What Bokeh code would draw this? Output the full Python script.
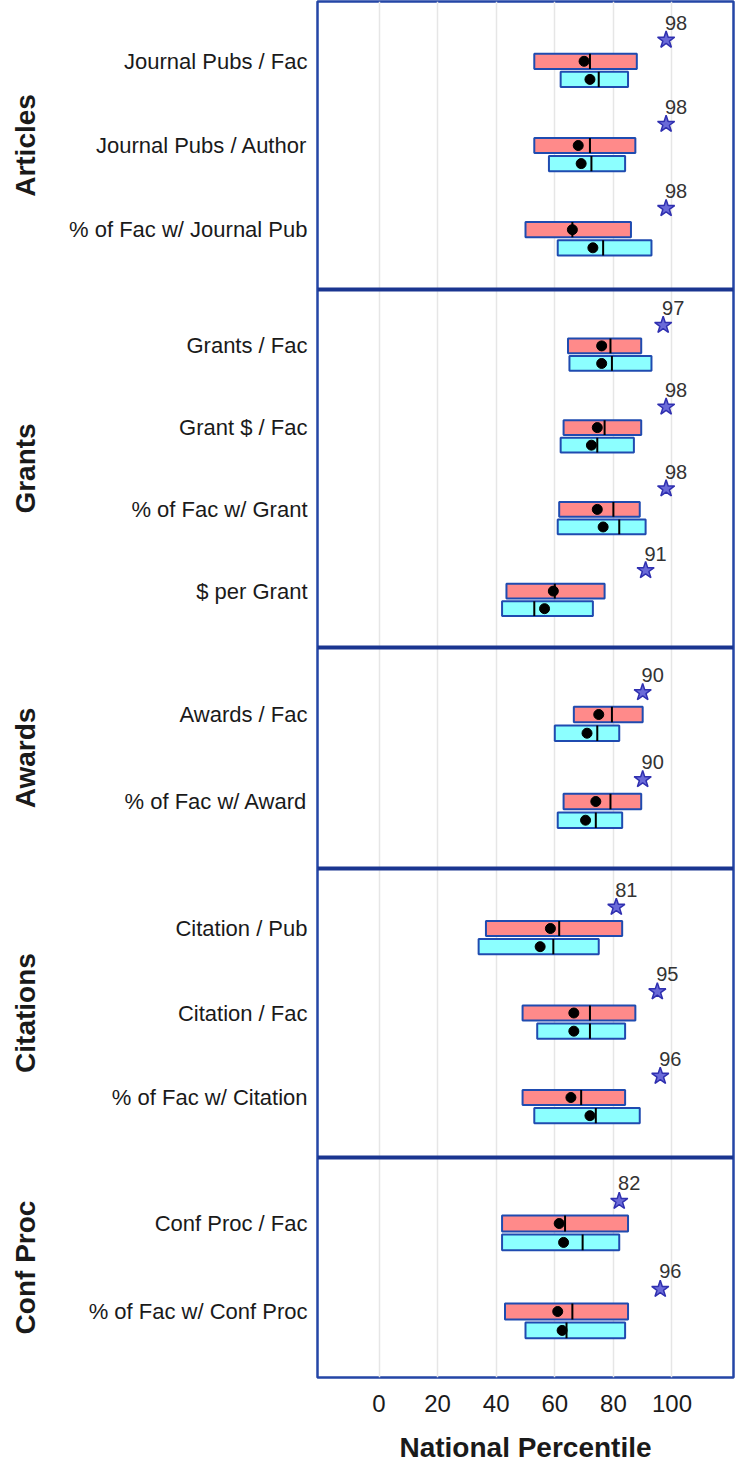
from bokeh.plotting import figure
from bokeh.models import ColumnDataSource, Range1d, FixedTicker, LinearAxis, Span
from bokeh.core.properties import value
from bokeh.embed import file_html
from bokeh.resources import INLINE

# ---------------- data ----------------
groups = ["Articles", "Grants", "Awards", "Citations", "Conf Proc"]

measures = [
    "Journal Pubs / Fac", "Journal Pubs / Author", "% of Fac w/ Journal Pub",
    "Grants / Fac", "Grant $ / Fac", "% of Fac w/ Grant", "$ per Grant",
    "Awards / Fac", "% of Fac w/ Award",
    "Citation / Pub", "Citation / Fac", "% of Fac w/ Citation",
    "Conf Proc / Fac", "% of Fac w/ Conf Proc",
]
measure_group = [
    "Articles", "Articles", "Articles",
    "Grants", "Grants", "Grants", "Grants",
    "Awards", "Awards",
    "Citations", "Citations", "Citations",
    "Conf Proc", "Conf Proc",
]

# upper (red) boxes
red_low = [53, 53, 50, 64.5, 63, 61.5, 43.5, 66.5, 63, 36.5, 49, 49, 42, 43]
red_median = [72, 72, 66, 79, 77, 80, 60, 79.5, 79, 61.5, 72, 69, 63.5, 66]
red_high = [88, 87.5, 86, 89.5, 89.5, 89, 77, 90, 89.5, 83, 87.5, 84, 85, 85]
red_mean = [70, 68, 66, 76, 74.5, 74.5, 59.5, 75, 74, 58.5, 66.5, 65.5, 61.5, 61]

# lower (cyan) boxes
cyan_low = [62, 58, 61, 65, 62, 61, 42, 60, 61, 34, 54, 53, 42, 50]
cyan_median = [75, 72.5, 76.5, 79.5, 74.5, 82, 53, 74.5, 74, 59.5, 72, 74, 69.5, 64]
cyan_high = [85, 84, 93, 93, 87, 91, 73, 82, 83, 75, 84, 89, 82, 84]
cyan_mean = [72, 69, 73, 76, 72.5, 76.5, 56.5, 71, 70.5, 55, 66.5, 72, 63, 62.5]

# star percentile
star_pct = [98, 98, 98, 97, 98, 98, 91, 90, 90, 81, 95, 96, 82, 96]

x_ticks = [0, 20, 40, 60, 80, 100]

# ---------------- layout constants ----------------
panel_heights = [288, 358, 221, 289, 220]
panel_pads = [0.71, 0.69, 0.77, 0.71, 0.75]

row_y = [0.0] * len(measures)
row_s = [0.0] * len(measures)
group_centers = []
boundaries = []
top = 0.0
for g, H, pad in zip(groups, panel_heights, panel_pads):
    idx = [i for i, mg in enumerate(measure_group) if mg == g]
    n = len(idx)
    s = H / (n - 1 + 2 * pad)
    for k, i in enumerate(idx):
        row_y[i] = round(top + (pad + k) * s, 1)
        row_s[i] = s
    group_centers.append(round(top + H / 2, 1))
    top += H
    boundaries.append(top)
total_h = top

BAR_H = 0.18
CYAN_OFF = 0.215
STAR_OFF = 0.253
LBL_OFF = 0.458

src = ColumnDataSource(dict(
    y=row_y,
    r_top=[y - BAR_H * s / 2 for y, s in zip(row_y, row_s)],
    r_bot=[y + BAR_H * s / 2 for y, s in zip(row_y, row_s)],
    c_y=[y + CYAN_OFF * s for y, s in zip(row_y, row_s)],
    c_top=[y + CYAN_OFF * s - BAR_H * s / 2 for y, s in zip(row_y, row_s)],
    c_bot=[y + CYAN_OFF * s + BAR_H * s / 2 for y, s in zip(row_y, row_s)],
    star_y=[y - STAR_OFF * s for y, s in zip(row_y, row_s)],
    lbl_y=[y - LBL_OFF * s for y, s in zip(row_y, row_s)],
    red_low=red_low, red_high=red_high, red_median=red_median, red_mean=red_mean,
    cyan_low=cyan_low, cyan_high=cyan_high, cyan_median=cyan_median, cyan_mean=cyan_mean,
    star=star_pct, star_txt=[str(v) for v in star_pct],
))

FONT = "Liberation Sans"
TXT = "#1a1a1a"
FRAME = "#2446a6"
BAR_LINE = "#1f4bb0"

p = figure(width=737, height=1465, x_range=Range1d(-21, 121),
           y_range=Range1d(total_h, 0),
           output_backend="svg", toolbar_location=None,
           min_border_left=317, min_border_right=4,
           min_border_top=1, min_border_bottom=85)

p.outline_line_color = FRAME
p.outline_line_width = 2.5
p.background_fill_color = "white"

# grid
p.xgrid.grid_line_color = "#e6e6e6"
p.xgrid.grid_line_width = 1.5
p.ygrid.grid_line_color = None

# x axis
xa = p.xaxis[0]
xa.ticker = FixedTicker(ticks=x_ticks)
xa.axis_line_color = None
xa.major_tick_line_color = None
xa.minor_tick_line_color = None
xa.major_label_text_font = FONT
xa.major_label_text_font_size = "24px"
xa.major_label_text_color = TXT
xa.major_label_standoff = 11
xa.axis_label = "National Percentile"
xa.axis_label_text_font = FONT
xa.axis_label_text_font_size = "28px"
xa.axis_label_text_font_style = "bold"
xa.axis_label_text_color = TXT
xa.axis_label_standoff = 17

# row label axis
ya = p.yaxis[0]
ya.ticker = FixedTicker(ticks=row_y)
ya.major_label_overrides = {y: m for y, m in zip(row_y, measures)}
ya.axis_line_color = None
ya.major_tick_line_color = None
ya.minor_tick_line_color = None
ya.major_label_text_font = FONT
ya.major_label_text_font_size = "22px"
ya.major_label_text_color = TXT
ya.major_label_standoff = 4

# group label axis
ga = LinearAxis(ticker=FixedTicker(ticks=group_centers),
                major_label_overrides={c: g for c, g in zip(group_centers, groups)},
                major_label_orientation="vertical",
                axis_line_color=None, major_tick_line_color=None,
                minor_tick_line_color=None,
                major_label_text_font=FONT, major_label_text_font_size="28px",
                major_label_text_font_style="bold", major_label_text_color=TXT,
                major_label_standoff=20)
p.add_layout(ga, "left")

# panel separators
for b in boundaries[:-1]:
    p.add_layout(Span(location=b, dimension="width", line_color="#1a3590",
                      line_width=4))

# boxes
p.quad(left="red_low", right="red_high", top="r_top", bottom="r_bot", source=src,
       fill_color="#ff8a8a", line_color=BAR_LINE, line_width=2)
p.quad(left="cyan_low", right="cyan_high", top="c_top", bottom="c_bot", source=src,
       fill_color="#8cffff", line_color=BAR_LINE, line_width=2)

# medians
p.segment(x0="red_median", x1="red_median", y0="r_top", y1="r_bot", source=src,
          line_color="black", line_width=2)
p.segment(x0="cyan_median", x1="cyan_median", y0="c_top", y1="c_bot", source=src,
          line_color="black", line_width=2)

# means
p.scatter(x="red_mean", y="y", source=src, marker="circle", size=10,
          fill_color="black", line_color="black")
p.scatter(x="cyan_mean", y="c_y", source=src, marker="circle", size=10,
          fill_color="black", line_color="black")

# stars
p.scatter(x="star", y="star_y", source=src, marker="star", size=18,
          fill_color="#6a6ad8", line_color="#3030b0", line_width=1.5)
p.text(x="star", y="lbl_y", text="star_txt", source=src, x_offset=10,
       text_align="center", text_baseline="middle",
       text_font=value(FONT), text_font_size="20px", text_color="#333333")

open("out.html", "w").write(file_html(p, INLINE))
